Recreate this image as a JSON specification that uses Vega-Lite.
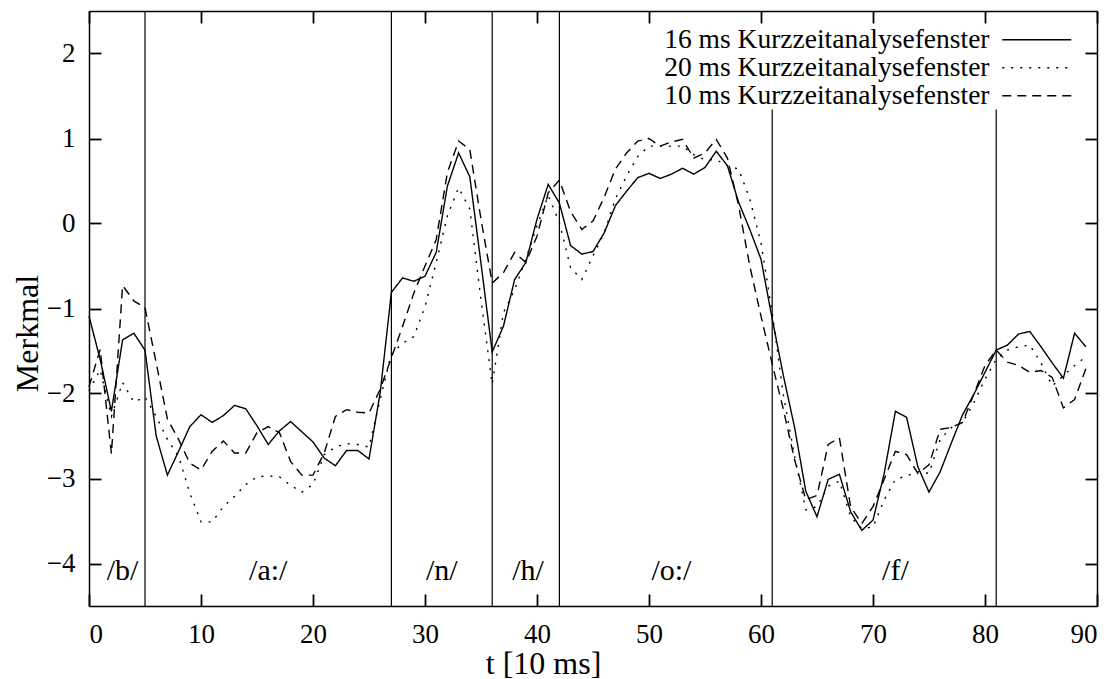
{
  "$schema": "https://vega.github.io/schema/vega-lite/v6.json",
  "width": 1008,
  "height": 595,
  "autosize": "none",
  "padding": {"left": 89, "top": 11, "right": 20, "bottom": 73},
  "background": "white",
  "config": {
    "font": "Liberation Serif",
    "view": {"stroke": null},
    "axis": {
      "grid": false,
      "domainColor": "black",
      "domainWidth": 1.5,
      "labelFont": "Liberation Serif",
      "labelFontSize": 27,
      "labelColor": "black",
      "titleFont": "Liberation Serif",
      "titleFontSize": 32,
      "titleFontWeight": "normal",
      "titleColor": "black"
    }
  },
  "datasets": {
    "curves": [
      {"t":0,"16 ms Kurzzeitanalysefenster":-1.09,"20 ms Kurzzeitanalysefenster":-1.97,"10 ms Kurzzeitanalysefenster":-1.92},
      {"t":1,"16 ms Kurzzeitanalysefenster":-1.60,"20 ms Kurzzeitanalysefenster":-1.72,"10 ms Kurzzeitanalysefenster":-1.48},
      {"t":2,"16 ms Kurzzeitanalysefenster":-2.21,"20 ms Kurzzeitanalysefenster":-2.27,"10 ms Kurzzeitanalysefenster":-2.71},
      {"t":3,"16 ms Kurzzeitanalysefenster":-1.37,"20 ms Kurzzeitanalysefenster":-1.87,"10 ms Kurzzeitanalysefenster":-0.73},
      {"t":4,"16 ms Kurzzeitanalysefenster":-1.29,"20 ms Kurzzeitanalysefenster":-2.10,"10 ms Kurzzeitanalysefenster":-0.91},
      {"t":5,"16 ms Kurzzeitanalysefenster":-1.49,"20 ms Kurzzeitanalysefenster":-2.04,"10 ms Kurzzeitanalysefenster":-0.99},
      {"t":6,"16 ms Kurzzeitanalysefenster":-2.50,"20 ms Kurzzeitanalysefenster":-2.27,"10 ms Kurzzeitanalysefenster":-1.64},
      {"t":7,"16 ms Kurzzeitanalysefenster":-2.96,"20 ms Kurzzeitanalysefenster":-2.54,"10 ms Kurzzeitanalysefenster":-2.30},
      {"t":8,"16 ms Kurzzeitanalysefenster":-2.68,"20 ms Kurzzeitanalysefenster":-2.74,"10 ms Kurzzeitanalysefenster":-2.54},
      {"t":9,"16 ms Kurzzeitanalysefenster":-2.39,"20 ms Kurzzeitanalysefenster":-3.17,"10 ms Kurzzeitanalysefenster":-2.82},
      {"t":10,"16 ms Kurzzeitanalysefenster":-2.25,"20 ms Kurzzeitanalysefenster":-3.51,"10 ms Kurzzeitanalysefenster":-2.90},
      {"t":11,"16 ms Kurzzeitanalysefenster":-2.34,"20 ms Kurzzeitanalysefenster":-3.51,"10 ms Kurzzeitanalysefenster":-2.68},
      {"t":12,"16 ms Kurzzeitanalysefenster":-2.26,"20 ms Kurzzeitanalysefenster":-3.33,"10 ms Kurzzeitanalysefenster":-2.56},
      {"t":13,"16 ms Kurzzeitanalysefenster":-2.14,"20 ms Kurzzeitanalysefenster":-3.21,"10 ms Kurzzeitanalysefenster":-2.70},
      {"t":14,"16 ms Kurzzeitanalysefenster":-2.18,"20 ms Kurzzeitanalysefenster":-3.07,"10 ms Kurzzeitanalysefenster":-2.70},
      {"t":15,"16 ms Kurzzeitanalysefenster":-2.38,"20 ms Kurzzeitanalysefenster":-2.98,"10 ms Kurzzeitanalysefenster":-2.46},
      {"t":16,"16 ms Kurzzeitanalysefenster":-2.60,"20 ms Kurzzeitanalysefenster":-2.97,"10 ms Kurzzeitanalysefenster":-2.39},
      {"t":17,"16 ms Kurzzeitanalysefenster":-2.44,"20 ms Kurzzeitanalysefenster":-2.98,"10 ms Kurzzeitanalysefenster":-2.46},
      {"t":18,"16 ms Kurzzeitanalysefenster":-2.33,"20 ms Kurzzeitanalysefenster":-3.08,"10 ms Kurzzeitanalysefenster":-2.80},
      {"t":19,"16 ms Kurzzeitanalysefenster":-2.45,"20 ms Kurzzeitanalysefenster":-3.16,"10 ms Kurzzeitanalysefenster":-2.96},
      {"t":20,"16 ms Kurzzeitanalysefenster":-2.57,"20 ms Kurzzeitanalysefenster":-3.07,"10 ms Kurzzeitanalysefenster":-2.96},
      {"t":21,"16 ms Kurzzeitanalysefenster":-2.76,"20 ms Kurzzeitanalysefenster":-2.72,"10 ms Kurzzeitanalysefenster":-2.70},
      {"t":22,"16 ms Kurzzeitanalysefenster":-2.85,"20 ms Kurzzeitanalysefenster":-2.63,"10 ms Kurzzeitanalysefenster":-2.27},
      {"t":23,"16 ms Kurzzeitanalysefenster":-2.67,"20 ms Kurzzeitanalysefenster":-2.59,"10 ms Kurzzeitanalysefenster":-2.19},
      {"t":24,"16 ms Kurzzeitanalysefenster":-2.67,"20 ms Kurzzeitanalysefenster":-2.60,"10 ms Kurzzeitanalysefenster":-2.22},
      {"t":25,"16 ms Kurzzeitanalysefenster":-2.77,"20 ms Kurzzeitanalysefenster":-2.63,"10 ms Kurzzeitanalysefenster":-2.23},
      {"t":26,"16 ms Kurzzeitanalysefenster":-1.99,"20 ms Kurzzeitanalysefenster":-2.07,"10 ms Kurzzeitanalysefenster":-1.95},
      {"t":27,"16 ms Kurzzeitanalysefenster":-0.81,"20 ms Kurzzeitanalysefenster":-1.53,"10 ms Kurzzeitanalysefenster":-1.58},
      {"t":28,"16 ms Kurzzeitanalysefenster":-0.64,"20 ms Kurzzeitanalysefenster":-1.41,"10 ms Kurzzeitanalysefenster":-1.21},
      {"t":29,"16 ms Kurzzeitanalysefenster":-0.68,"20 ms Kurzzeitanalysefenster":-1.33,"10 ms Kurzzeitanalysefenster":-0.82},
      {"t":30,"16 ms Kurzzeitanalysefenster":-0.62,"20 ms Kurzzeitanalysefenster":-0.98,"10 ms Kurzzeitanalysefenster":-0.50},
      {"t":31,"16 ms Kurzzeitanalysefenster":-0.34,"20 ms Kurzzeitanalysefenster":-0.46,"10 ms Kurzzeitanalysefenster":-0.19},
      {"t":32,"16 ms Kurzzeitanalysefenster":0.44,"20 ms Kurzzeitanalysefenster":0.09,"10 ms Kurzzeitanalysefenster":0.60},
      {"t":33,"16 ms Kurzzeitanalysefenster":0.83,"20 ms Kurzzeitanalysefenster":0.42,"10 ms Kurzzeitanalysefenster":0.97},
      {"t":34,"16 ms Kurzzeitanalysefenster":0.55,"20 ms Kurzzeitanalysefenster":0.17,"10 ms Kurzzeitanalysefenster":0.87},
      {"t":35,"16 ms Kurzzeitanalysefenster":-0.47,"20 ms Kurzzeitanalysefenster":-0.90,"10 ms Kurzzeitanalysefenster":0.05},
      {"t":36,"16 ms Kurzzeitanalysefenster":-1.51,"20 ms Kurzzeitanalysefenster":-1.89,"10 ms Kurzzeitanalysefenster":-0.70},
      {"t":37,"16 ms Kurzzeitanalysefenster":-1.21,"20 ms Kurzzeitanalysefenster":-1.05,"10 ms Kurzzeitanalysefenster":-0.58},
      {"t":38,"16 ms Kurzzeitanalysefenster":-0.66,"20 ms Kurzzeitanalysefenster":-0.78,"10 ms Kurzzeitanalysefenster":-0.34},
      {"t":39,"16 ms Kurzzeitanalysefenster":-0.46,"20 ms Kurzzeitanalysefenster":-0.42,"10 ms Kurzzeitanalysefenster":-0.46},
      {"t":40,"16 ms Kurzzeitanalysefenster":0.05,"20 ms Kurzzeitanalysefenster":-0.03,"10 ms Kurzzeitanalysefenster":-0.15},
      {"t":41,"16 ms Kurzzeitanalysefenster":0.46,"20 ms Kurzzeitanalysefenster":0.33,"10 ms Kurzzeitanalysefenster":0.36},
      {"t":42,"16 ms Kurzzeitanalysefenster":0.24,"20 ms Kurzzeitanalysefenster":0.01,"10 ms Kurzzeitanalysefenster":0.51},
      {"t":43,"16 ms Kurzzeitanalysefenster":-0.26,"20 ms Kurzzeitanalysefenster":-0.52,"10 ms Kurzzeitanalysefenster":0.14},
      {"t":44,"16 ms Kurzzeitanalysefenster":-0.36,"20 ms Kurzzeitanalysefenster":-0.66,"10 ms Kurzzeitanalysefenster":-0.07},
      {"t":45,"16 ms Kurzzeitanalysefenster":-0.33,"20 ms Kurzzeitanalysefenster":-0.38,"10 ms Kurzzeitanalysefenster":0.03},
      {"t":46,"16 ms Kurzzeitanalysefenster":-0.11,"20 ms Kurzzeitanalysefenster":-0.11,"10 ms Kurzzeitanalysefenster":0.31},
      {"t":47,"16 ms Kurzzeitanalysefenster":0.21,"20 ms Kurzzeitanalysefenster":0.29,"10 ms Kurzzeitanalysefenster":0.64},
      {"t":48,"16 ms Kurzzeitanalysefenster":0.38,"20 ms Kurzzeitanalysefenster":0.56,"10 ms Kurzzeitanalysefenster":0.83},
      {"t":49,"16 ms Kurzzeitanalysefenster":0.54,"20 ms Kurzzeitanalysefenster":0.79,"10 ms Kurzzeitanalysefenster":0.97},
      {"t":50,"16 ms Kurzzeitanalysefenster":0.59,"20 ms Kurzzeitanalysefenster":0.91,"10 ms Kurzzeitanalysefenster":1.00},
      {"t":51,"16 ms Kurzzeitanalysefenster":0.53,"20 ms Kurzzeitanalysefenster":0.91,"10 ms Kurzzeitanalysefenster":0.91},
      {"t":52,"16 ms Kurzzeitanalysefenster":0.58,"20 ms Kurzzeitanalysefenster":0.91,"10 ms Kurzzeitanalysefenster":0.96},
      {"t":53,"16 ms Kurzzeitanalysefenster":0.65,"20 ms Kurzzeitanalysefenster":0.91,"10 ms Kurzzeitanalysefenster":0.99},
      {"t":54,"16 ms Kurzzeitanalysefenster":0.58,"20 ms Kurzzeitanalysefenster":0.81,"10 ms Kurzzeitanalysefenster":0.77},
      {"t":55,"16 ms Kurzzeitanalysefenster":0.66,"20 ms Kurzzeitanalysefenster":0.75,"10 ms Kurzzeitanalysefenster":0.83},
      {"t":56,"16 ms Kurzzeitanalysefenster":0.85,"20 ms Kurzzeitanalysefenster":0.75,"10 ms Kurzzeitanalysefenster":0.99},
      {"t":57,"16 ms Kurzzeitanalysefenster":0.68,"20 ms Kurzzeitanalysefenster":0.68,"10 ms Kurzzeitanalysefenster":0.77},
      {"t":58,"16 ms Kurzzeitanalysefenster":0.25,"20 ms Kurzzeitanalysefenster":0.64,"10 ms Kurzzeitanalysefenster":0.21},
      {"t":59,"16 ms Kurzzeitanalysefenster":-0.07,"20 ms Kurzzeitanalysefenster":0.29,"10 ms Kurzzeitanalysefenster":-0.50},
      {"t":60,"16 ms Kurzzeitanalysefenster":-0.42,"20 ms Kurzzeitanalysefenster":-0.23,"10 ms Kurzzeitanalysefenster":-1.09},
      {"t":61,"16 ms Kurzzeitanalysefenster":-1.12,"20 ms Kurzzeitanalysefenster":-1.05,"10 ms Kurzzeitanalysefenster":-1.65},
      {"t":62,"16 ms Kurzzeitanalysefenster":-1.79,"20 ms Kurzzeitanalysefenster":-2.02,"10 ms Kurzzeitanalysefenster":-2.19},
      {"t":63,"16 ms Kurzzeitanalysefenster":-2.40,"20 ms Kurzzeitanalysefenster":-2.74,"10 ms Kurzzeitanalysefenster":-2.78},
      {"t":64,"16 ms Kurzzeitanalysefenster":-3.15,"20 ms Kurzzeitanalysefenster":-3.37,"10 ms Kurzzeitanalysefenster":-3.25},
      {"t":65,"16 ms Kurzzeitanalysefenster":-3.45,"20 ms Kurzzeitanalysefenster":-3.33,"10 ms Kurzzeitanalysefenster":-3.20},
      {"t":66,"16 ms Kurzzeitanalysefenster":-3.01,"20 ms Kurzzeitanalysefenster":-3.09,"10 ms Kurzzeitanalysefenster":-2.60},
      {"t":67,"16 ms Kurzzeitanalysefenster":-2.95,"20 ms Kurzzeitanalysefenster":-3.03,"10 ms Kurzzeitanalysefenster":-2.52},
      {"t":68,"16 ms Kurzzeitanalysefenster":-3.39,"20 ms Kurzzeitanalysefenster":-3.45,"10 ms Kurzzeitanalysefenster":-3.33},
      {"t":69,"16 ms Kurzzeitanalysefenster":-3.61,"20 ms Kurzzeitanalysefenster":-3.59,"10 ms Kurzzeitanalysefenster":-3.53},
      {"t":70,"16 ms Kurzzeitanalysefenster":-3.49,"20 ms Kurzzeitanalysefenster":-3.57,"10 ms Kurzzeitanalysefenster":-3.33},
      {"t":71,"16 ms Kurzzeitanalysefenster":-2.94,"20 ms Kurzzeitanalysefenster":-3.25,"10 ms Kurzzeitanalysefenster":-3.01},
      {"t":72,"16 ms Kurzzeitanalysefenster":-2.21,"20 ms Kurzzeitanalysefenster":-3.01,"10 ms Kurzzeitanalysefenster":-2.68},
      {"t":73,"16 ms Kurzzeitanalysefenster":-2.28,"20 ms Kurzzeitanalysefenster":-2.97,"10 ms Kurzzeitanalysefenster":-2.72},
      {"t":74,"16 ms Kurzzeitanalysefenster":-2.86,"20 ms Kurzzeitanalysefenster":-2.92,"10 ms Kurzzeitanalysefenster":-2.94},
      {"t":75,"16 ms Kurzzeitanalysefenster":-3.16,"20 ms Kurzzeitanalysefenster":-2.94,"10 ms Kurzzeitanalysefenster":-2.84},
      {"t":76,"16 ms Kurzzeitanalysefenster":-2.92,"20 ms Kurzzeitanalysefenster":-2.54,"10 ms Kurzzeitanalysefenster":-2.42},
      {"t":77,"16 ms Kurzzeitanalysefenster":-2.58,"20 ms Kurzzeitanalysefenster":-2.40,"10 ms Kurzzeitanalysefenster":-2.40},
      {"t":78,"16 ms Kurzzeitanalysefenster":-2.25,"20 ms Kurzzeitanalysefenster":-2.34,"10 ms Kurzzeitanalysefenster":-2.34},
      {"t":79,"16 ms Kurzzeitanalysefenster":-2.01,"20 ms Kurzzeitanalysefenster":-2.11,"10 ms Kurzzeitanalysefenster":-2.01},
      {"t":80,"16 ms Kurzzeitanalysefenster":-1.75,"20 ms Kurzzeitanalysefenster":-1.83,"10 ms Kurzzeitanalysefenster":-1.67},
      {"t":81,"16 ms Kurzzeitanalysefenster":-1.49,"20 ms Kurzzeitanalysefenster":-1.60,"10 ms Kurzzeitanalysefenster":-1.49},
      {"t":82,"16 ms Kurzzeitanalysefenster":-1.43,"20 ms Kurzzeitanalysefenster":-1.49,"10 ms Kurzzeitanalysefenster":-1.63},
      {"t":83,"16 ms Kurzzeitanalysefenster":-1.30,"20 ms Kurzzeitanalysefenster":-1.45,"10 ms Kurzzeitanalysefenster":-1.67},
      {"t":84,"16 ms Kurzzeitanalysefenster":-1.27,"20 ms Kurzzeitanalysefenster":-1.43,"10 ms Kurzzeitanalysefenster":-1.75},
      {"t":85,"16 ms Kurzzeitanalysefenster":-1.45,"20 ms Kurzzeitanalysefenster":-1.64,"10 ms Kurzzeitanalysefenster":-1.73},
      {"t":86,"16 ms Kurzzeitanalysefenster":-1.64,"20 ms Kurzzeitanalysefenster":-1.91,"10 ms Kurzzeitanalysefenster":-1.81},
      {"t":87,"16 ms Kurzzeitanalysefenster":-1.82,"20 ms Kurzzeitanalysefenster":-1.79,"10 ms Kurzzeitanalysefenster":-2.17},
      {"t":88,"16 ms Kurzzeitanalysefenster":-1.29,"20 ms Kurzzeitanalysefenster":-1.67,"10 ms Kurzzeitanalysefenster":-2.07},
      {"t":89,"16 ms Kurzzeitanalysefenster":-1.45,"20 ms Kurzzeitanalysefenster":-1.57,"10 ms Kurzzeitanalysefenster":-1.71}
    ],
    "bounds": [
      {"t": 5, "top": 2.5},
      {"t": 27, "top": 2.5},
      {"t": 36, "top": 2.5},
      {"t": 42, "top": 2.5},
      {"t": 61, "top": 1.34},
      {"t": 81, "top": 1.34}
    ],
    "phones": [
      {"t": 3, "label": "/b/"},
      {"t": 16, "label": "/a:/"},
      {"t": 31.5, "label": "/n/"},
      {"t": 39.2, "label": "/h/"},
      {"t": 52, "label": "/o:/"},
      {"t": 72, "label": "/f/"}
    ]
  },
  "layer": [
    {
      "data": {"name": "curves"},
      "transform": [
        {"fold": ["16 ms Kurzzeitanalysefenster", "20 ms Kurzzeitanalysefenster", "10 ms Kurzzeitanalysefenster"], "as": ["series", "value"]}
      ],
      "mark": {"type": "line", "color": "black", "strokeWidth": 1.4, "strokeCap": "butt"},
      "encoding": {
        "x": {
          "field": "t", "type": "quantitative",
          "scale": {"domain": [0, 90], "nice": false, "zero": false},
          "axis": {"orient": "bottom", "values": [0,10,20,30,40,50,60,70,80,90], "ticks": true, "tickSize": -12, "tickColor": "black", "tickWidth": 1.8, "labelPadding": 27, "title": "t [10 ms]", "titleX": 454, "titleY": 67, "titleBaseline": "alphabetic", "titleAlign": "center"}
        },
        "y": {
          "field": "value", "type": "quantitative",
          "scale": {"domain": [-4.5, 2.5], "nice": false, "zero": false},
          "axis": {"orient": "left", "values": [-4,-3,-2,-1,0,1,2], "ticks": true, "tickSize": -12, "tickColor": "black", "tickWidth": 1.8, "labelPadding": 26, "title": "Merkmal", "titleX": -52, "titleY": 322, "titleBaseline": "alphabetic", "titleAlign": "center", "titleAngle": 270}
        },
        "strokeDash": {
          "field": "series", "type": "nominal",
          "scale": {
            "domain": ["16 ms Kurzzeitanalysefenster", "20 ms Kurzzeitanalysefenster", "10 ms Kurzzeitanalysefenster"],
            "range": [[1, 0], [2, 7], [9, 6]]
          },
          "legend": {
            "orient": "none", "legendX": 934, "legendY": 15, "title": null,
            "symbolType": "M-3,0H3", "symbolSize": 529, "symbolStrokeWidth": 1.4, "symbolStrokeColor": "black",
            "labelAlign": "right", "labelOffset": -61, "labelFontSize": 27.5, "labelFont": "Liberation Serif",
            "labelColor": "black", "labelLimit": 600, "rowPadding": -3, "padding": 0
          }
        }
      }
    },
    {
      "data": {"name": "bounds"},
      "mark": {"type": "rule", "color": "black", "strokeWidth": 1.2},
      "encoding": {
        "x": {"field": "t", "type": "quantitative", "axis": {"orient": "top", "values": [0,10,20,30,40,50,60,70,80,90], "ticks": true, "tickSize": -12, "tickColor": "black", "tickWidth": 1.8, "labels": false, "title": null}},
        "y": {"field": "top", "type": "quantitative", "axis": {"orient": "right", "values": [-4,-3,-2,-1,0,1,2], "ticks": true, "tickSize": -12, "tickColor": "black", "tickWidth": 1.8, "labels": false, "title": null}},
        "y2": {"datum": -4.5}
      }
    },
    {
      "data": {"name": "phones"},
      "mark": {"type": "text", "font": "Liberation Serif", "fontSize": 30, "color": "black", "baseline": "alphabetic", "align": "center"},
      "encoding": {
        "x": {"field": "t", "type": "quantitative", "axis": null},
        "y": {"datum": -4.19, "axis": null},
        "text": {"field": "label"}
      }
    }
  ],
  "resolve": {"axis": {"x": "independent", "y": "independent"}}
}
